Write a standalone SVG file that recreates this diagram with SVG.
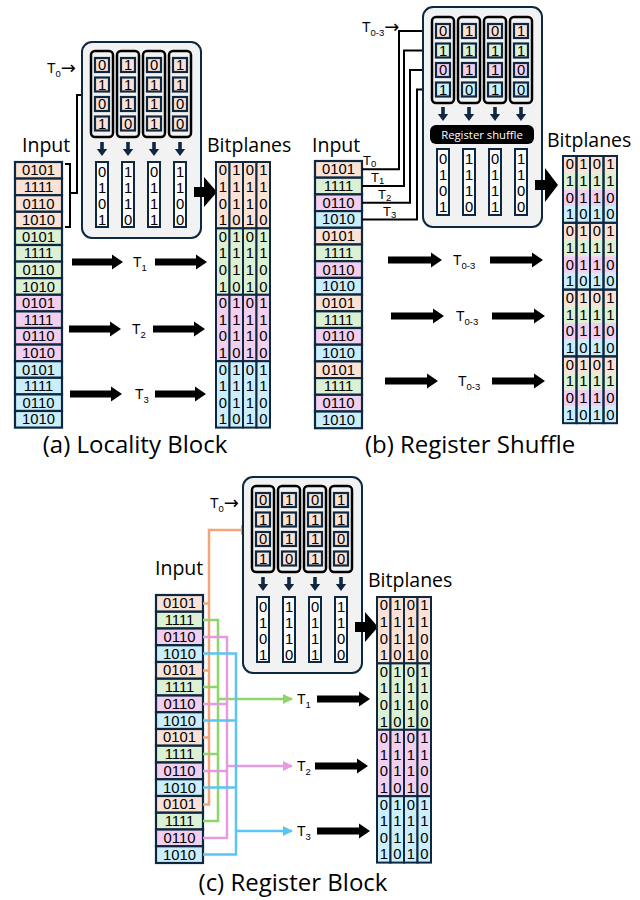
<svg xmlns="http://www.w3.org/2000/svg" width="640" height="900" viewBox="0 0 640 900">
<style>
.t{font-family:"Open Sans","Liberation Sans","DejaVu Sans",sans-serif;fill:#000}
.d{font-family:"Liberation Sans",Arial,sans-serif;font-size:14.8px;text-anchor:middle}
.lb{font-size:19.5px}
.cap{font-size:24px;text-anchor:middle}
.tl{font-family:"Liberation Sans",Arial,sans-serif;font-size:14px}
.sub{font-size:9.5px}
.ar{font-family:"DejaVu Sans",sans-serif;font-size:18px}
.box{fill:#f2f2f2;stroke:#0e2841;stroke-width:2}
.reg{fill:#f2f2f2;stroke:#000;stroke-width:2.5}
.c{stroke:#0e2841;stroke-width:2.2}
.pe{fill:#fbe2d5}.gr{fill:#dcf0d3}.pk{fill:#f2cfee}.bl{fill:#caeefb}
.vec{fill:#fbfbfb;stroke:#0e2841;stroke-width:2}
.grid{fill:none;stroke:#0e2841;stroke-width:2}
.da{fill:#0e2841}
.ba{fill:#000}
.ln{fill:none;stroke:#000;stroke-width:2}
.cl{fill:none;stroke-width:2.5}
.or{stroke:#f2a47a}.gn{stroke:#8ed66a}.pn{stroke:#e69be0}.bu{stroke:#5bc4f3}
.wt{fill:#fff;font-size:11.3px;text-anchor:middle}
</style>
<defs>
<marker id="mk" viewBox="0 0 10 10" refX="9" refY="5" markerUnits="userSpaceOnUse" markerWidth="8" markerHeight="8" orient="auto"><path d="M0,0 L10,5 L0,10 z" fill="#000"/></marker>
<marker id="mo" viewBox="0 0 10 10" refX="9" refY="5" markerUnits="userSpaceOnUse" markerWidth="10" markerHeight="10" orient="auto"><path d="M0,0 L10,5 L0,10 z" fill="#f2a47a"/></marker>
<marker id="mg" viewBox="0 0 10 10" refX="9" refY="5" markerUnits="userSpaceOnUse" markerWidth="10" markerHeight="10" orient="auto"><path d="M0,0 L10,5 L0,10 z" fill="#8ed66a"/></marker>
<marker id="mp" viewBox="0 0 10 10" refX="9" refY="5" markerUnits="userSpaceOnUse" markerWidth="10" markerHeight="10" orient="auto"><path d="M0,0 L10,5 L0,10 z" fill="#e69be0"/></marker>
<marker id="mb" viewBox="0 0 10 10" refX="9" refY="5" markerUnits="userSpaceOnUse" markerWidth="10" markerHeight="10" orient="auto"><path d="M0,0 L10,5 L0,10 z" fill="#5bc4f3"/></marker>
</defs>

<!-- ===== Panel (a) ===== -->
<g id="a-input">
<text class="t lb" x="22" y="152">Input</text>
<rect class="c pe" x="15" y="162" width="47" height="16.6"/>
<rect class="c pe" x="15" y="178.6" width="47" height="16.6"/>
<rect class="c pe" x="15" y="195.2" width="47" height="16.6"/>
<rect class="c pe" x="15" y="211.8" width="47" height="16.6"/>
<rect class="c gr" x="15" y="228.4" width="47" height="16.6"/>
<rect class="c gr" x="15" y="245" width="47" height="16.6"/>
<rect class="c gr" x="15" y="261.6" width="47" height="16.6"/>
<rect class="c gr" x="15" y="278.2" width="47" height="16.6"/>
<rect class="c pk" x="15" y="294.8" width="47" height="16.6"/>
<rect class="c pk" x="15" y="311.4" width="47" height="16.6"/>
<rect class="c pk" x="15" y="328" width="47" height="16.6"/>
<rect class="c pk" x="15" y="344.6" width="47" height="16.6"/>
<rect class="c bl" x="15" y="361.2" width="47" height="16.6"/>
<rect class="c bl" x="15" y="377.8" width="47" height="16.6"/>
<rect class="c bl" x="15" y="394.4" width="47" height="16.6"/>
<rect class="c bl" x="15" y="411" width="47" height="16.6"/>
<text class="t d" x="38.5" y="175.3">0101</text>
<text class="t d" x="38.5" y="191.9">1111</text>
<text class="t d" x="38.5" y="208.5">0110</text>
<text class="t d" x="38.5" y="225.1">1010</text>
<text class="t d" x="38.5" y="241.7">0101</text>
<text class="t d" x="38.5" y="258.3">1111</text>
<text class="t d" x="38.5" y="274.9">0110</text>
<text class="t d" x="38.5" y="291.5">1010</text>
<text class="t d" x="38.5" y="308.1">0101</text>
<text class="t d" x="38.5" y="324.7">1111</text>
<text class="t d" x="38.5" y="341.3">0110</text>
<text class="t d" x="38.5" y="357.9">1010</text>
<text class="t d" x="38.5" y="374.5">0101</text>
<text class="t d" x="38.5" y="391.1">1111</text>
<text class="t d" x="38.5" y="407.7">0110</text>
<text class="t d" x="38.5" y="424.3">1010</text>
</g>

<g id="a-connectors">
<path class="ln" d="M65,164 H70 V227 H65 M70,193 H77 V95 H89" marker-end="url(#mk)"/>
<path class="ba" d="M72,258.5 h40 v-4 l11,7.5 l-11,7.5 v-4 h-40z M155,258.5 h41 v-4 l11,7.5 l-11,7.5 v-4 h-41z"/>
<path class="ba" d="M69,325.5 h41 v-4 l11,7.5 l-11,7.5 v-4 h-41z M153,325.5 h41 v-4 l11,7.5 l-11,7.5 v-4 h-41z"/>
<path class="ba" d="M70,390.5 h41 v-4 l11,7.5 l-11,7.5 v-4 h-41z M155,390.5 h40 v-4 l11,7.5 l-11,7.5 v-4 h-40z"/>
<text class="t tl" x="133" y="267">T<tspan class="sub" dy="4">1</tspan></text>
<text class="t tl" x="132" y="334">T<tspan class="sub" dy="4">2</tspan></text>
<text class="t tl" x="135" y="399">T<tspan class="sub" dy="4">3</tspan></text>
</g>

<g id="a-block">
<text class="t tl" x="47" y="73">T<tspan class="sub" dy="4">0</tspan><tspan class="ar" dy="-3">→</tspan></text>
<rect class="box" x="82" y="42" width="119" height="196" rx="10"/>
<rect class="reg" x="91" y="51" width="22" height="86" rx="4"/>
<rect class="reg" x="117" y="51" width="22" height="86" rx="4"/>
<rect class="reg" x="143" y="51" width="22" height="86" rx="4"/>
<rect class="reg" x="169" y="51" width="22" height="86" rx="4"/>
<g class="c pe">
<rect x="95" y="58" width="14" height="14"/><rect x="95" y="77.5" width="14" height="14"/><rect x="95" y="97" width="14" height="14"/><rect x="95" y="116.5" width="14" height="14"/>
<rect x="121" y="58" width="14" height="14"/><rect x="121" y="77.5" width="14" height="14"/><rect x="121" y="97" width="14" height="14"/><rect x="121" y="116.5" width="14" height="14"/>
<rect x="147" y="58" width="14" height="14"/><rect x="147" y="77.5" width="14" height="14"/><rect x="147" y="97" width="14" height="14"/><rect x="147" y="116.5" width="14" height="14"/>
<rect x="173" y="58" width="14" height="14"/><rect x="173" y="77.5" width="14" height="14"/><rect x="173" y="97" width="14" height="14"/><rect x="173" y="116.5" width="14" height="14"/>
</g>
<text class="t d" x="102 102 102 102" y="70.3 89.8 109.3 128.8">0101</text>
<text class="t d" x="128 128 128 128" y="70.3 89.8 109.3 128.8">1110</text>
<text class="t d" x="154 154 154 154" y="70.3 89.8 109.3 128.8">0111</text>
<text class="t d" x="180 180 180 180" y="70.3 89.8 109.3 128.8">1100</text>
<path class="da" d="M100.2,142 h3.6 v7 h3.4 l-5.2,7 l-5.2,-7 h3.4z M126.2,142 h3.6 v7 h3.4 l-5.2,7 l-5.2,-7 h3.4z M152.2,142 h3.6 v7 h3.4 l-5.2,7 l-5.2,-7 h3.4z M178.2,142 h3.6 v7 h3.4 l-5.2,7 l-5.2,-7 h3.4z"/>
<rect class="vec" x="96" y="162" width="12" height="65"/>
<rect class="vec" x="122" y="162" width="12" height="65"/>
<rect class="vec" x="148" y="162" width="12" height="65"/>
<rect class="vec" x="174" y="162" width="12" height="65"/>
<text class="t d" x="102 102 102 102" y="177 193 209 225">0101</text>
<text class="t d" x="128 128 128 128" y="177 193 209 225">1110</text>
<text class="t d" x="154 154 154 154" y="177 193 209 225">0111</text>
<text class="t d" x="180 180 180 180" y="177 193 209 225">1100</text>
<path class="ba" d="M194,187 h10 v-10 l13,15 l-13,15 v-10 h-10z"/>
</g>

<g id="a-bitplanes">
<text class="t lb" x="207" y="152">Bitplanes</text>
<g class="grid">
<rect class="pe" x="216" y="162" width="13.5" height="66.4"/><rect class="pe" x="229.5" y="162" width="13.5" height="66.4"/><rect class="pe" x="243" y="162" width="13.5" height="66.4"/><rect class="pe" x="256.5" y="162" width="13.5" height="66.4"/>
<rect class="gr" x="216" y="228.4" width="13.5" height="66.4"/><rect class="gr" x="229.5" y="228.4" width="13.5" height="66.4"/><rect class="gr" x="243" y="228.4" width="13.5" height="66.4"/><rect class="gr" x="256.5" y="228.4" width="13.5" height="66.4"/>
<rect class="pk" x="216" y="294.8" width="13.5" height="66.4"/><rect class="pk" x="229.5" y="294.8" width="13.5" height="66.4"/><rect class="pk" x="243" y="294.8" width="13.5" height="66.4"/><rect class="pk" x="256.5" y="294.8" width="13.5" height="66.4"/>
<rect class="bl" x="216" y="361.2" width="13.5" height="66.4"/><rect class="bl" x="229.5" y="361.2" width="13.5" height="66.4"/><rect class="bl" x="243" y="361.2" width="13.5" height="66.4"/><rect class="bl" x="256.5" y="361.2" width="13.5" height="66.4"/>
</g>
<text class="t d" x="222.75 222.75 222.75 222.75 222.75 222.75 222.75 222.75 222.75 222.75 222.75 222.75 222.75 222.75 222.75 222.75" y="175.3 191.9 208.5 225.1 241.7 258.3 274.9 291.5 308.1 324.7 341.3 357.9 374.5 391.1 407.7 424.3">0101010101010101</text>
<text class="t d" x="236.25 236.25 236.25 236.25 236.25 236.25 236.25 236.25 236.25 236.25 236.25 236.25 236.25 236.25 236.25 236.25" y="175.3 191.9 208.5 225.1 241.7 258.3 274.9 291.5 308.1 324.7 341.3 357.9 374.5 391.1 407.7 424.3">1110111011101110</text>
<text class="t d" x="249.75 249.75 249.75 249.75 249.75 249.75 249.75 249.75 249.75 249.75 249.75 249.75 249.75 249.75 249.75 249.75" y="175.3 191.9 208.5 225.1 241.7 258.3 274.9 291.5 308.1 324.7 341.3 357.9 374.5 391.1 407.7 424.3">0111011101110111</text>
<text class="t d" x="263.25 263.25 263.25 263.25 263.25 263.25 263.25 263.25 263.25 263.25 263.25 263.25 263.25 263.25 263.25 263.25" y="175.3 191.9 208.5 225.1 241.7 258.3 274.9 291.5 308.1 324.7 341.3 357.9 374.5 391.1 407.7 424.3">1100110011001100</text>
</g>
<text id="a-caption" class="t cap" x="135" y="453">(a) Locality Block</text>

<!-- ===== Panel (b) ===== -->
<g id="b-input">
<text class="t lb" x="312" y="152">Input</text>
<rect class="c pe" x="315" y="161" width="47" height="16.7"/>
<rect class="c gr" x="315" y="177.7" width="47" height="16.7"/>
<rect class="c pk" x="315" y="194.4" width="47" height="16.7"/>
<rect class="c bl" x="315" y="211.1" width="47" height="16.7"/>
<rect class="c pe" x="315" y="227.8" width="47" height="16.7"/>
<rect class="c gr" x="315" y="244.5" width="47" height="16.7"/>
<rect class="c pk" x="315" y="261.2" width="47" height="16.7"/>
<rect class="c bl" x="315" y="277.9" width="47" height="16.7"/>
<rect class="c pe" x="315" y="294.6" width="47" height="16.7"/>
<rect class="c gr" x="315" y="311.3" width="47" height="16.7"/>
<rect class="c pk" x="315" y="328" width="47" height="16.7"/>
<rect class="c bl" x="315" y="344.7" width="47" height="16.7"/>
<rect class="c pe" x="315" y="361.4" width="47" height="16.7"/>
<rect class="c gr" x="315" y="378.1" width="47" height="16.7"/>
<rect class="c pk" x="315" y="394.8" width="47" height="16.7"/>
<rect class="c bl" x="315" y="411.5" width="47" height="16.7"/>
<text class="t d" x="338.5" y="174.3">0101</text>
<text class="t d" x="338.5" y="191">1111</text>
<text class="t d" x="338.5" y="207.7">0110</text>
<text class="t d" x="338.5" y="224.4">1010</text>
<text class="t d" x="338.5" y="241.1">0101</text>
<text class="t d" x="338.5" y="257.8">1111</text>
<text class="t d" x="338.5" y="274.5">0110</text>
<text class="t d" x="338.5" y="291.2">1010</text>
<text class="t d" x="338.5" y="307.9">0101</text>
<text class="t d" x="338.5" y="324.6">1111</text>
<text class="t d" x="338.5" y="341.3">0110</text>
<text class="t d" x="338.5" y="358">1010</text>
<text class="t d" x="338.5" y="374.7">0101</text>
<text class="t d" x="338.5" y="391.4">1111</text>
<text class="t d" x="338.5" y="408.1">0110</text>
<text class="t d" x="338.5" y="424.8">1010</text>
</g>

<g id="b-connectors">
<path class="ln" d="M362,169.3 H399 V31 H431" marker-end="url(#mk)"/>
<path class="ln" d="M362,186 H404 V50.5 H431" marker-end="url(#mk)"/>
<path class="ln" d="M362,202.7 H410 V70 H431" marker-end="url(#mk)"/>
<path class="ln" d="M362,219.4 H417 V89.5 H431" marker-end="url(#mk)"/>
<text class="t tl" x="363" y="164.5" style="font-size:13px">T<tspan class="sub" dy="2.5">0</tspan></text>
<text class="t tl" x="371" y="181.5" style="font-size:13px">T<tspan class="sub" dy="2.5">1</tspan></text>
<text class="t tl" x="378" y="198.5" style="font-size:13px">T<tspan class="sub" dy="2.5">2</tspan></text>
<text class="t tl" x="383" y="215.5" style="font-size:13px">T<tspan class="sub" dy="2.5">3</tspan></text>
<text class="t tl" x="362" y="32">T<tspan class="sub" dy="4">0-3</tspan><tspan class="ar" dy="-3">→</tspan></text>
<path class="ba" d="M388,256.5 h43 v-4 l11,7.5 l-11,7.5 v-4 h-43z M490,256.5 h42 v-4 l11,7.5 l-11,7.5 v-4 h-42z"/>
<path class="ba" d="M391,312.5 h42 v-4 l11,7.5 l-11,7.5 v-4 h-42z M492,312.5 h42 v-4 l11,7.5 l-11,7.5 v-4 h-42z"/>
<path class="ba" d="M385,377.5 h42 v-4 l11,7.5 l-11,7.5 v-4 h-42z M492,377.5 h42 v-4 l11,7.5 l-11,7.5 v-4 h-42z"/>
<text class="t tl" x="453" y="265">T<tspan class="sub" dy="4">0-3</tspan></text>
<text class="t tl" x="456" y="321">T<tspan class="sub" dy="4">0-3</tspan></text>
<text class="t tl" x="458" y="386">T<tspan class="sub" dy="4">0-3</tspan></text>
</g>

<g id="b-block">
<rect class="box" x="423" y="7" width="119" height="220" rx="10"/>
<rect class="reg" x="432" y="17" width="22" height="86" rx="4"/>
<rect class="reg" x="458" y="17" width="22" height="86" rx="4"/>
<rect class="reg" x="484" y="17" width="22" height="86" rx="4"/>
<rect class="reg" x="510" y="17" width="22" height="86" rx="4"/>
<g class="c">
<rect class="pe" x="436" y="24" width="14" height="14"/><rect class="gr" x="436" y="43.5" width="14" height="14"/><rect class="pk" x="436" y="63" width="14" height="14"/><rect class="bl" x="436" y="82.5" width="14" height="14"/>
<rect class="pe" x="462" y="24" width="14" height="14"/><rect class="gr" x="462" y="43.5" width="14" height="14"/><rect class="pk" x="462" y="63" width="14" height="14"/><rect class="bl" x="462" y="82.5" width="14" height="14"/>
<rect class="pe" x="488" y="24" width="14" height="14"/><rect class="gr" x="488" y="43.5" width="14" height="14"/><rect class="pk" x="488" y="63" width="14" height="14"/><rect class="bl" x="488" y="82.5" width="14" height="14"/>
<rect class="pe" x="514" y="24" width="14" height="14"/><rect class="gr" x="514" y="43.5" width="14" height="14"/><rect class="pk" x="514" y="63" width="14" height="14"/><rect class="bl" x="514" y="82.5" width="14" height="14"/>
</g>
<text class="t d" x="443 443 443 443" y="36.3 55.8 75.3 94.8">0101</text>
<text class="t d" x="469 469 469 469" y="36.3 55.8 75.3 94.8">1110</text>
<text class="t d" x="495 495 495 495" y="36.3 55.8 75.3 94.8">0111</text>
<text class="t d" x="521 521 521 521" y="36.3 55.8 75.3 94.8">1100</text>
<path class="da" d="M441.2,107 h3.6 v7 h3.4 l-5.2,7 l-5.2,-7 h3.4z M467.2,107 h3.6 v7 h3.4 l-5.2,7 l-5.2,-7 h3.4z M493.2,107 h3.6 v7 h3.4 l-5.2,7 l-5.2,-7 h3.4z M519.2,107 h3.6 v7 h3.4 l-5.2,7 l-5.2,-7 h3.4z"/>
<rect x="430" y="125" width="104" height="19" rx="6" fill="#000"/>
<text class="t wt" x="482" y="138.5">Register shuffle</text>
<rect class="vec" x="437" y="149" width="12" height="66"/>
<rect class="vec" x="463" y="149" width="12" height="66"/>
<rect class="vec" x="489" y="149" width="12" height="66"/>
<rect class="vec" x="515" y="149" width="12" height="66"/>
<text class="t d" x="443 443 443 443" y="164 180 196 212">0101</text>
<text class="t d" x="469 469 469 469" y="164 180 196 212">1110</text>
<text class="t d" x="495 495 495 495" y="164 180 196 212">0111</text>
<text class="t d" x="521 521 521 521" y="164 180 196 212">1100</text>
<path class="ba" d="M535,180 h10 v-12 l13,17 l-13,17 v-12 h-10z"/>
</g>

<g id="b-bitplanes">
<text class="t lb" x="547" y="147">Bitplanes</text>
<rect class="pe" x="563" y="156" width="54" height="16.7"/><rect class="gr" x="563" y="172.7" width="54" height="16.7"/><rect class="pk" x="563" y="189.4" width="54" height="16.7"/><rect class="bl" x="563" y="206.1" width="54" height="16.7"/>
<rect class="pe" x="563" y="222.8" width="54" height="16.7"/><rect class="gr" x="563" y="239.5" width="54" height="16.7"/><rect class="pk" x="563" y="256.2" width="54" height="16.7"/><rect class="bl" x="563" y="272.9" width="54" height="16.7"/>
<rect class="pe" x="563" y="289.6" width="54" height="16.7"/><rect class="gr" x="563" y="306.3" width="54" height="16.7"/><rect class="pk" x="563" y="323" width="54" height="16.7"/><rect class="bl" x="563" y="339.7" width="54" height="16.7"/>
<rect class="pe" x="563" y="356.4" width="54" height="16.7"/><rect class="gr" x="563" y="373.1" width="54" height="16.7"/><rect class="pk" x="563" y="389.8" width="54" height="16.7"/><rect class="bl" x="563" y="406.5" width="54" height="16.7"/>
<g class="grid">
<rect x="563" y="156" width="13.5" height="66.8"/><rect x="576.5" y="156" width="13.5" height="66.8"/><rect x="590" y="156" width="13.5" height="66.8"/><rect x="603.5" y="156" width="13.5" height="66.8"/>
<rect x="563" y="222.8" width="13.5" height="66.8"/><rect x="576.5" y="222.8" width="13.5" height="66.8"/><rect x="590" y="222.8" width="13.5" height="66.8"/><rect x="603.5" y="222.8" width="13.5" height="66.8"/>
<rect x="563" y="289.6" width="13.5" height="66.8"/><rect x="576.5" y="289.6" width="13.5" height="66.8"/><rect x="590" y="289.6" width="13.5" height="66.8"/><rect x="603.5" y="289.6" width="13.5" height="66.8"/>
<rect x="563" y="356.4" width="13.5" height="66.8"/><rect x="576.5" y="356.4" width="13.5" height="66.8"/><rect x="590" y="356.4" width="13.5" height="66.8"/><rect x="603.5" y="356.4" width="13.5" height="66.8"/>
</g>
<text class="t d" x="569.75 569.75 569.75 569.75 569.75 569.75 569.75 569.75 569.75 569.75 569.75 569.75 569.75 569.75 569.75 569.75" y="169.3 186 202.7 219.4 236.1 252.8 269.5 286.2 302.9 319.6 336.3 353 369.7 386.4 403.1 419.8">0101010101010101</text>
<text class="t d" x="583.25 583.25 583.25 583.25 583.25 583.25 583.25 583.25 583.25 583.25 583.25 583.25 583.25 583.25 583.25 583.25" y="169.3 186 202.7 219.4 236.1 252.8 269.5 286.2 302.9 319.6 336.3 353 369.7 386.4 403.1 419.8">1110111011101110</text>
<text class="t d" x="596.75 596.75 596.75 596.75 596.75 596.75 596.75 596.75 596.75 596.75 596.75 596.75 596.75 596.75 596.75 596.75" y="169.3 186 202.7 219.4 236.1 252.8 269.5 286.2 302.9 319.6 336.3 353 369.7 386.4 403.1 419.8">0111011101110111</text>
<text class="t d" x="610.25 610.25 610.25 610.25 610.25 610.25 610.25 610.25 610.25 610.25 610.25 610.25 610.25 610.25 610.25 610.25" y="169.3 186 202.7 219.4 236.1 252.8 269.5 286.2 302.9 319.6 336.3 353 369.7 386.4 403.1 419.8">1100110011001100</text>
</g>
<text id="b-caption" class="t cap" x="470" y="453">(b) Register Shuffle</text>

<!-- ===== Panel (c) ===== -->
<g id="c-input">
<text class="t lb" x="155" y="575">Input</text>
<rect class="c pe" x="156" y="595" width="47" height="16.75"/>
<rect class="c gr" x="156" y="611.75" width="47" height="16.75"/>
<rect class="c pk" x="156" y="628.5" width="47" height="16.75"/>
<rect class="c bl" x="156" y="645.25" width="47" height="16.75"/>
<rect class="c pe" x="156" y="662" width="47" height="16.75"/>
<rect class="c gr" x="156" y="678.75" width="47" height="16.75"/>
<rect class="c pk" x="156" y="695.5" width="47" height="16.75"/>
<rect class="c bl" x="156" y="712.25" width="47" height="16.75"/>
<rect class="c pe" x="156" y="729" width="47" height="16.75"/>
<rect class="c gr" x="156" y="745.75" width="47" height="16.75"/>
<rect class="c pk" x="156" y="762.5" width="47" height="16.75"/>
<rect class="c bl" x="156" y="779.25" width="47" height="16.75"/>
<rect class="c pe" x="156" y="796" width="47" height="16.75"/>
<rect class="c gr" x="156" y="812.75" width="47" height="16.75"/>
<rect class="c pk" x="156" y="829.5" width="47" height="16.75"/>
<rect class="c bl" x="156" y="846.25" width="47" height="16.75"/>
<text class="t d" x="179.5" y="608.4">0101</text>
<text class="t d" x="179.5" y="625.15">1111</text>
<text class="t d" x="179.5" y="641.9">0110</text>
<text class="t d" x="179.5" y="658.65">1010</text>
<text class="t d" x="179.5" y="675.4">0101</text>
<text class="t d" x="179.5" y="692.15">1111</text>
<text class="t d" x="179.5" y="708.9">0110</text>
<text class="t d" x="179.5" y="725.65">1010</text>
<text class="t d" x="179.5" y="742.4">0101</text>
<text class="t d" x="179.5" y="759.15">1111</text>
<text class="t d" x="179.5" y="775.9">0110</text>
<text class="t d" x="179.5" y="792.65">1010</text>
<text class="t d" x="179.5" y="809.4">0101</text>
<text class="t d" x="179.5" y="826.15">1111</text>
<text class="t d" x="179.5" y="842.9">0110</text>
<text class="t d" x="179.5" y="859.65">1010</text>
</g>

<g id="c-connectors">
<path class="cl or" d="M203,603.4 H209 M203,670.4 H209 M203,737.4 H209 M203,804.4 H209 V530 H250" marker-end="url(#mo)"/>
<path class="cl gn" d="M203,620.1 H218 V821.1 H203 M203,687.1 H218 M203,754.1 H218 M218,699 H292" marker-end="url(#mg)"/>
<path class="cl pn" d="M203,636.9 H227 V837.9 H203 M203,703.9 H227 M203,770.9 H227 M227,766 H292" marker-end="url(#mp)"/>
<path class="cl bu" d="M203,653.6 H236 V854.6 H203 M203,720.6 H236 M203,787.6 H236 M236,831 H292" marker-end="url(#mb)"/>
<text class="t tl" x="297" y="704">T<tspan class="sub" dy="4">1</tspan></text>
<text class="t tl" x="297" y="771">T<tspan class="sub" dy="4">2</tspan></text>
<text class="t tl" x="297" y="836">T<tspan class="sub" dy="4">3</tspan></text>
<path class="ba" d="M317,695.5 h42 v-4 l11,7.5 l-11,7.5 v-4 h-42z"/>
<path class="ba" d="M315,762.5 h42 v-4 l11,7.5 l-11,7.5 v-4 h-42z"/>
<path class="ba" d="M317,827.5 h42 v-4 l11,7.5 l-11,7.5 v-4 h-42z"/>
</g>

<g id="c-block" transform="translate(161,435)">
<text class="t tl" x="49" y="73">T<tspan class="sub" dy="4">0</tspan><tspan class="ar" dy="-3">→</tspan></text>
<rect class="box" x="82" y="42" width="119" height="196" rx="10"/>
<rect class="reg" x="91" y="51" width="22" height="86" rx="4"/>
<rect class="reg" x="117" y="51" width="22" height="86" rx="4"/>
<rect class="reg" x="143" y="51" width="22" height="86" rx="4"/>
<rect class="reg" x="169" y="51" width="22" height="86" rx="4"/>
<g class="c pe">
<rect x="95" y="58" width="14" height="14"/><rect x="95" y="77.5" width="14" height="14"/><rect x="95" y="97" width="14" height="14"/><rect x="95" y="116.5" width="14" height="14"/>
<rect x="121" y="58" width="14" height="14"/><rect x="121" y="77.5" width="14" height="14"/><rect x="121" y="97" width="14" height="14"/><rect x="121" y="116.5" width="14" height="14"/>
<rect x="147" y="58" width="14" height="14"/><rect x="147" y="77.5" width="14" height="14"/><rect x="147" y="97" width="14" height="14"/><rect x="147" y="116.5" width="14" height="14"/>
<rect x="173" y="58" width="14" height="14"/><rect x="173" y="77.5" width="14" height="14"/><rect x="173" y="97" width="14" height="14"/><rect x="173" y="116.5" width="14" height="14"/>
</g>
<text class="t d" x="102 102 102 102" y="70.3 89.8 109.3 128.8">0101</text>
<text class="t d" x="128 128 128 128" y="70.3 89.8 109.3 128.8">1110</text>
<text class="t d" x="154 154 154 154" y="70.3 89.8 109.3 128.8">0111</text>
<text class="t d" x="180 180 180 180" y="70.3 89.8 109.3 128.8">1100</text>
<path class="da" d="M100.2,142 h3.6 v7 h3.4 l-5.2,7 l-5.2,-7 h3.4z M126.2,142 h3.6 v7 h3.4 l-5.2,7 l-5.2,-7 h3.4z M152.2,142 h3.6 v7 h3.4 l-5.2,7 l-5.2,-7 h3.4z M178.2,142 h3.6 v7 h3.4 l-5.2,7 l-5.2,-7 h3.4z"/>
<rect class="vec" x="96" y="162" width="12" height="65"/>
<rect class="vec" x="122" y="162" width="12" height="65"/>
<rect class="vec" x="148" y="162" width="12" height="65"/>
<rect class="vec" x="174" y="162" width="12" height="65"/>
<text class="t d" x="102 102 102 102" y="177 193 209 225">0101</text>
<text class="t d" x="128 128 128 128" y="177 193 209 225">1110</text>
<text class="t d" x="154 154 154 154" y="177 193 209 225">0111</text>
<text class="t d" x="180 180 180 180" y="177 193 209 225">1100</text>
<path class="ba" d="M194,187 h10 v-10 l13,15 l-13,15 v-10 h-10z"/>
</g>

<g id="c-bitplanes" transform="translate(161,435)">
<text class="t lb" x="207" y="152">Bitplanes</text>
<g class="grid">
<rect class="pe" x="216" y="162" width="13.5" height="66.4"/><rect class="pe" x="229.5" y="162" width="13.5" height="66.4"/><rect class="pe" x="243" y="162" width="13.5" height="66.4"/><rect class="pe" x="256.5" y="162" width="13.5" height="66.4"/>
<rect class="gr" x="216" y="228.4" width="13.5" height="66.4"/><rect class="gr" x="229.5" y="228.4" width="13.5" height="66.4"/><rect class="gr" x="243" y="228.4" width="13.5" height="66.4"/><rect class="gr" x="256.5" y="228.4" width="13.5" height="66.4"/>
<rect class="pk" x="216" y="294.8" width="13.5" height="66.4"/><rect class="pk" x="229.5" y="294.8" width="13.5" height="66.4"/><rect class="pk" x="243" y="294.8" width="13.5" height="66.4"/><rect class="pk" x="256.5" y="294.8" width="13.5" height="66.4"/>
<rect class="bl" x="216" y="361.2" width="13.5" height="66.4"/><rect class="bl" x="229.5" y="361.2" width="13.5" height="66.4"/><rect class="bl" x="243" y="361.2" width="13.5" height="66.4"/><rect class="bl" x="256.5" y="361.2" width="13.5" height="66.4"/>
</g>
<text class="t d" x="222.75 222.75 222.75 222.75 222.75 222.75 222.75 222.75 222.75 222.75 222.75 222.75 222.75 222.75 222.75 222.75" y="175.3 191.9 208.5 225.1 241.7 258.3 274.9 291.5 308.1 324.7 341.3 357.9 374.5 391.1 407.7 424.3">0101010101010101</text>
<text class="t d" x="236.25 236.25 236.25 236.25 236.25 236.25 236.25 236.25 236.25 236.25 236.25 236.25 236.25 236.25 236.25 236.25" y="175.3 191.9 208.5 225.1 241.7 258.3 274.9 291.5 308.1 324.7 341.3 357.9 374.5 391.1 407.7 424.3">1110111011101110</text>
<text class="t d" x="249.75 249.75 249.75 249.75 249.75 249.75 249.75 249.75 249.75 249.75 249.75 249.75 249.75 249.75 249.75 249.75" y="175.3 191.9 208.5 225.1 241.7 258.3 274.9 291.5 308.1 324.7 341.3 357.9 374.5 391.1 407.7 424.3">0111011101110111</text>
<text class="t d" x="263.25 263.25 263.25 263.25 263.25 263.25 263.25 263.25 263.25 263.25 263.25 263.25 263.25 263.25 263.25 263.25" y="175.3 191.9 208.5 225.1 241.7 258.3 274.9 291.5 308.1 324.7 341.3 357.9 374.5 391.1 407.7 424.3">1100110011001100</text>
</g>
<text id="c-caption" class="t cap" x="293" y="891">(c) Register Block</text>
</svg>
